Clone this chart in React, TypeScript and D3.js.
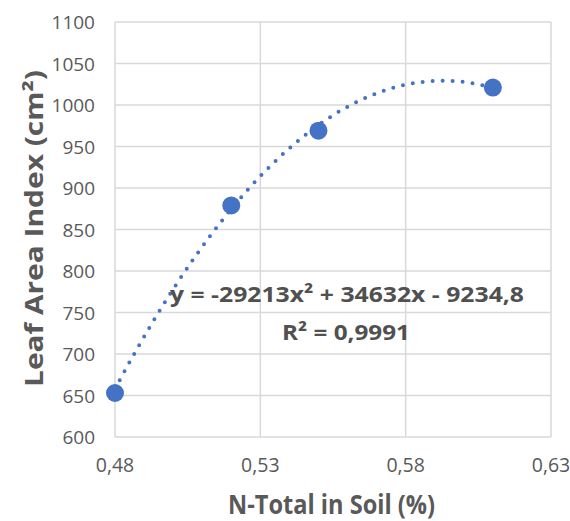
import React from 'react'
import * as d3 from 'd3'

// measured points
const nTotal = [0.48, 0.52, 0.55, 0.61]
const leafArea = [653, 879, 969, 1021]

const xTicks = [0.48, 0.53, 0.58, 0.63]
const yTicks = [600, 650, 700, 750, 800, 850, 900, 950, 1000, 1050, 1100]

// polynomial trendline, as printed on the chart
const coef = [-29213, 34632, -9234.8]
const eqLabel = 'y = -29213x² + 34632x - 9234,8'
const r2Label = 'R² = 0,9991'

const W = 570
const H = 521
const margin = { top: 22, right: 19, bottom: 84, left: 115 }
const FONT = '"Open Sans", "Liberation Sans", sans-serif'
const BLUE = '#4472C4'
const GRID = '#d9d9d9'
const TXT = '#595959'

export default function App() {
  const width = W - margin.left - margin.right
  const height = H - margin.top - margin.bottom

  const x = d3.scaleLinear().domain([0.48, 0.63]).range([0, width])
  const y = d3.scaleLinear().domain([600, 1100]).range([height, 0])

  const fit = (v: number) => coef[0] * v * v + coef[1] * v + coef[2]
  const trend = d3.range(0.48, 0.6101, 0.001).map(v => [v, fit(v)] as [number, number])
  const line = d3.line<[number, number]>()
    .x(d => x(d[0]))
    .y(d => y(d[1]))

  const fmt = (d: number) => d.toFixed(2).replace('.', ',')

  return (
    <svg width={W} height={H} style={{ position: 'absolute', left: 0, top: 0, background: '#fff' }}>
      <g transform={`translate(${margin.left},${margin.top})`}>
        {/* grid */}
        {yTicks.map(t => (
          <line key={'gy' + t} x1={0} x2={width} y1={y(t)} y2={y(t)} stroke={GRID} strokeWidth={1.5} />
        ))}
        {xTicks.map(t => (
          <line key={'gx' + t} x1={x(t)} x2={x(t)} y1={0} y2={height} stroke={GRID} strokeWidth={1.5} />
        ))}

        {/* tick labels */}
        {yTicks.map(t => (
          <text key={'ty' + t} x={-20} y={y(t) + 7} textAnchor="end"
            fontFamily={FONT} fontSize={19} fill={TXT}>{t}</text>
        ))}
        {xTicks.map(t => (
          <text key={'tx' + t} x={x(t)} y={height + 35} textAnchor="middle"
            fontFamily={FONT} fontSize={19.5} fill={TXT}>{fmt(t)}</text>
        ))}

        {/* trendline */}
        <path d={line(trend) || ''} fill="none" stroke={BLUE} strokeWidth={4}
          strokeDasharray="0 10" strokeLinecap="round" />

        {/* points */}
        {nTotal.map((v, i) => (
          <circle key={'p' + i} cx={x(v)} cy={y(leafArea[i])} r={9} fill={BLUE} />
        ))}
      </g>

      {/* equation */}
      <text x={170} y={302} textLength={354} lengthAdjust="spacingAndGlyphs" fontFamily={FONT}
        fontSize={22} fontWeight="bold" fill="#505050">{eqLabel}</text>
      <text x={282} y={340} textLength={128} lengthAdjust="spacingAndGlyphs" fontFamily={FONT}
        fontSize={22} fontWeight="bold" fill="#505050">{r2Label}</text>

      {/* axis titles */}
      <text x={228} y={514} textLength={207} lengthAdjust="spacingAndGlyphs" fontFamily={FONT}
        fontSize={26} fontWeight="bold" fill={TXT}>N-Total in Soil (%)</text>
      <text transform="translate(43,387) rotate(-90)" textLength={317} lengthAdjust="spacingAndGlyphs"
        fontFamily={FONT} fontSize={25} fontWeight="bold" fill={TXT}>Leaf Area Index (cm²)</text>
    </svg>
  )
}
